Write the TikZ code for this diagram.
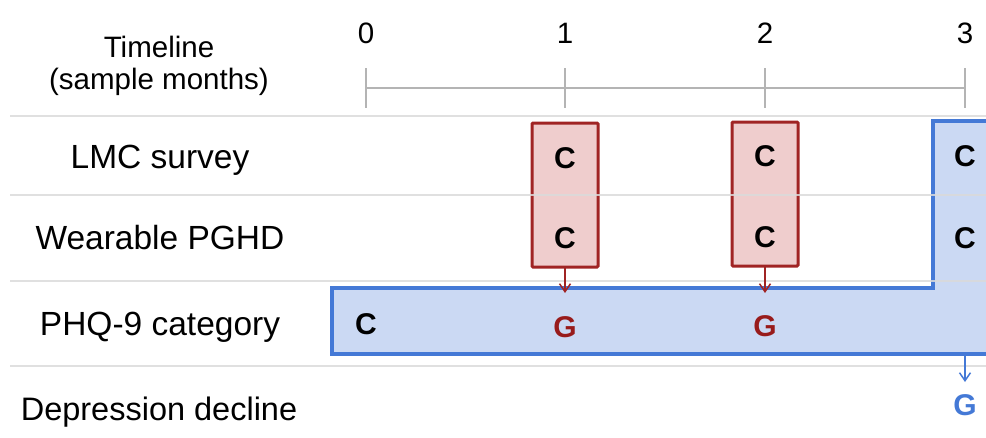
\documentclass[tikz,border=0pt]{standalone}
\usepackage{fontspec}
\setmainfont{Liberation Sans}
\usetikzlibrary{arrows.meta}

\definecolor{rowline}{HTML}{DADADA}
\definecolor{axisgray}{HTML}{B4B4B4}
\definecolor{redfill}{HTML}{EFCDCD}
\definecolor{redline}{HTML}{A02424}
\definecolor{redtext}{HTML}{981B1B}
\definecolor{bluefill}{HTML}{CBD9F3}
\definecolor{blueline}{HTML}{4479D6}

\tikzset{
  rowlabel/.style={font=\fontsize{33.5}{38}\selectfont, anchor=base, inner sep=0pt},
  axislabel/.style={font=\fontsize{29.5}{34}\selectfont, anchor=base, inner sep=0pt},
  cmark/.style={font=\fontsize{30}{34}\selectfont\bfseries, anchor=base, inner sep=0pt},
  gred/.style={cmark, text=redtext},
  gblue/.style={cmark, text=blueline},
  redbox/.style={draw=redline, fill=redfill, line width=3pt, rounded corners=1pt},
  bluebox/.style={draw=blueline, fill=bluefill, line width=3.2pt},
  sep/.style={draw=rowline, line width=2pt, opacity=0.85},
  axis/.style={draw=axisgray, line width=1.6pt},
  redarrow/.style={draw=redline, line width=1.5pt, -{Straight Barb[length=8pt,width=11pt,line width=1.5pt]}},
  bluearrow/.style={draw=blueline, line width=1.5pt, -{Straight Barb[length=8pt,width=11pt,line width=1.5pt]}},
}

\begin{document}
\begin{tikzpicture}[x=1pt, y=-1pt]
\useasboundingbox (0,0) rectangle (986,437);

% shaded sampling windows
\draw[bluebox] (332,288) -- (933,288) -- (933,121) -- (995,121)
  -- (995,354) -- (332,354) -- cycle;
\draw[redbox] (532,123) rectangle (598,267);
\draw[redbox] (732,122) rectangle (798,266);

% row separators
\foreach \yy in {116,195,281,366}
  \draw[sep] (10,\yy) -- (986,\yy);

% timeline axis
\coordinate (t0) at (366,88);
\coordinate (t3) at (965,88);
\draw[axis] (t0) -- (t3);
\foreach \xx in {366,565,765,965}
  \draw[axis] (\xx,68) -- (\xx,108);
\node[axislabel] (n0) at (366,43) {0};
\node[axislabel] (n1) at (565,43) {1};
\node[axislabel] (n2) at (765,43) {2};
\node[axislabel] (n3) at (965,43) {3};

% left column labels
\node[axislabel] (tl1) at (159,57) {Timeline};
\node[axislabel] (tl2) at (159,89) {(sample months)};
\node[rowlabel] (r1) at (160,168) {LMC survey};
\node[rowlabel] (r2) at (160,249) {Wearable PGHD};
\node[rowlabel] (r3) at (160,335) {PHQ-9 category};
\node[rowlabel, font=\fontsize{32.5}{37}\selectfont] (r4) at (159,420) {Depression decline};

% collected / generated marks
\node[cmark] (c11) at (565,168) {C};
\node[cmark] (c12) at (565,248) {C};
\node[cmark] (c21) at (765,166) {C};
\node[cmark] (c22) at (765,247) {C};
\node[cmark] (c31) at (965,166) {C};
\node[cmark] (c32) at (965,248) {C};
\node[cmark] (c0) at (366,334) {C};
\node[gred] (g1) at (565,337) {G};
\node[gred] (g2) at (765,336) {G};
\node[gblue] (g3) at (965,415) {G};

% arrows from each window to its generated value
\coordinate (a1s) at (565,267);
\coordinate (a1e) at (565,293);
\coordinate (a2s) at (765,266);
\coordinate (a2e) at (765,293);
\coordinate (a3s) at (965,354);
\coordinate (a3e) at (965,382);
\draw[redarrow] (a1s) -- (a1e);
\draw[redarrow] (a2s) -- (a2e);
\draw[bluearrow] (a3s) -- (a3e);
\end{tikzpicture}
\end{document}
